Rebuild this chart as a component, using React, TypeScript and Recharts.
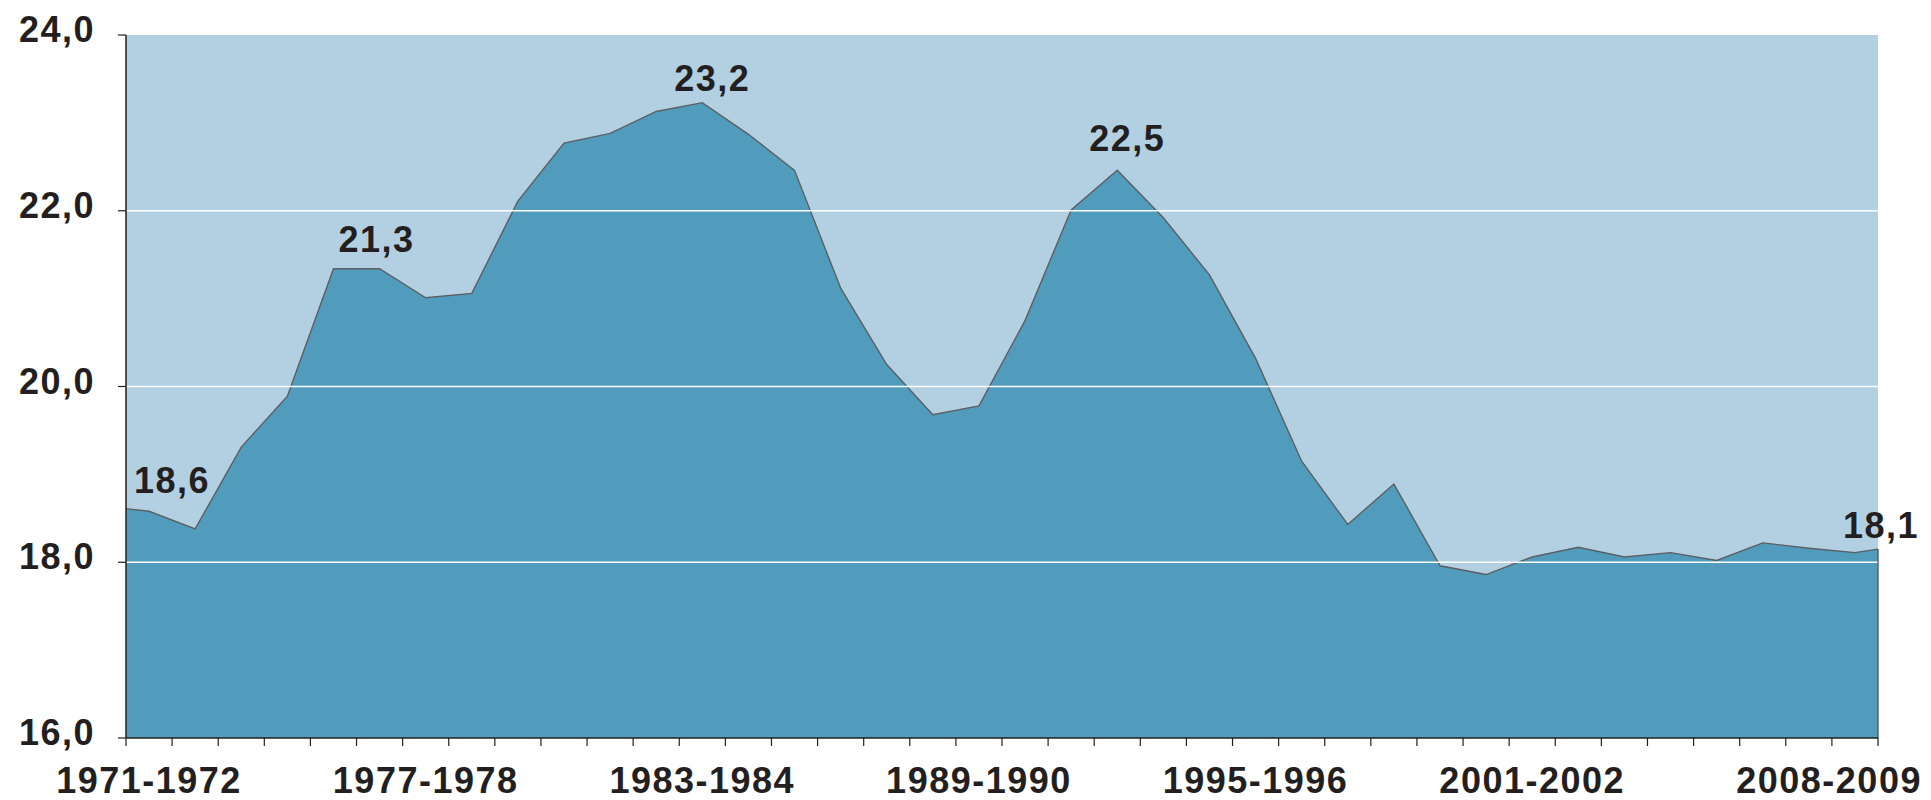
import { AreaChart, Area, XAxis, YAxis, CartesianGrid, ReferenceLine, LabelList } from 'recharts';

const W = 1931;
const H = 800;
const MARGIN = { top: 35, right: 53, bottom: 0, left: 0 };
const Y_AXIS_W = 126;
const X_AXIS_H = 62;

const INK = '#231f20';
const PLOT_BG = '#b3d0e2';
const AREA_FILL = '#519cbd';
const AREA_LINE = '#5b5f63';
const FONT = '"Liberation Sans", Arial, Helvetica, sans-serif';
const FONT_SIZE = 36;

const SEASONS = [
  '1971-1972', '1972-1973', '1973-1974', '1974-1975', '1975-1976', '1976-1977',
  '1977-1978', '1978-1979', '1979-1980', '1980-1981', '1981-1982', '1982-1983',
  '1983-1984', '1984-1985', '1985-1986', '1986-1987', '1987-1988', '1988-1989',
  '1989-1990', '1990-1991', '1991-1992', '1992-1993', '1993-1994', '1994-1995',
  '1995-1996', '1996-1997', '1997-1998', '1998-1999', '1999-2000', '2000-2001',
  '2001-2002', '2002-2003', '2003-2004', '2004-2005', '2005-2006', '2006-2007',
  '2007-2008', '2008-2009',
];

const RATIO = [
  18.58, 18.38, 19.31, 19.89, 21.34, 21.34, 21.01, 21.06, 22.11, 22.77,
  22.88, 23.13, 23.23, 22.87, 22.46, 21.12, 20.25, 19.68, 19.78, 20.75,
  22.01, 22.46, 21.92, 21.27, 20.32, 19.15, 18.43, 18.89, 17.96, 17.86,
  18.06, 18.17, 18.06, 18.11, 18.02, 18.22, 18.16, 18.11,
];

// value where the filled area meets the left and right plot edges
const START_EDGE = 18.61;
const END_EDGE = 18.15;

const Y_TICKS = [16, 18, 20, 22, 24];
const GRID_VALUES = [18, 20, 22];
const SHOWN_SEASONS = ['1971-1972', '1977-1978', '1983-1984', '1989-1990', '1995-1996', '2001-2002', '2008-2009'];
const ANNOTATED = [0, 5, 12, 21, 37];

// nudges for the value labels (px, relative to the point)
const ANNOTATION_DX: Record<number, number> = { 0: 23, 5: -3, 12: 10, 21: 10, 37: 26 };
const ANNOTATION_DY: Record<number, number> = { 0: -18, 5: -17, 12: -12, 21: -19, 37: -15 };

const fmt = (v: number) => v.toFixed(1).replace('.', ',');

const data = [
  { x: 0, v: START_EDGE },
  ...RATIO.map((v, i) => ({ x: i + 0.5, v, i, label: ANNOTATED.includes(i) ? fmt(v) : undefined })),
  { x: SEASONS.length, v: END_EDGE },
];

const BOUNDS = Array.from({ length: SEASONS.length + 1 }, (_, i) => i);
const HALF_CAT = (W - Y_AXIS_W - MARGIN.right) / SEASONS.length / 2;

const textStyle = {
  fontFamily: FONT,
  fontSize: FONT_SIZE,
  fontWeight: 700,
  letterSpacing: 1.5,
  fill: INK,
};

function XTick(props: any) {
  const { x, y, payload } = props;
  const idx = payload.value;
  const name = SEASONS[idx];
  if (!name || !SHOWN_SEASONS.includes(name)) return null;
  const last = idx === SEASONS.length - 1;
  return (
    <text x={x + HALF_CAT + (last ? 67 : 0)} y={y + 47} textAnchor={last ? 'end' : 'middle'} style={textStyle}>
      {name}
    </text>
  );
}

function YTick(props: any) {
  const { x, y, payload } = props;
  return (
    <text x={x} y={y + 7} textAnchor="end" style={textStyle}>
      {fmt(payload.value)}
    </text>
  );
}

function PointLabel(props: any) {
  const { value, index } = props;
  if (value == null || value === '') return null;
  const vb = props.viewBox || {};
  const x = props.x ?? vb.x;
  const y = props.y ?? vb.y;
  const row = data[index];
  const dx = row && row.i != null ? ANNOTATION_DX[row.i] ?? 0 : 0;
  const dy = row && row.i != null ? ANNOTATION_DY[row.i] ?? -16 : -16;
  return (
    <text x={x + dx} y={y + dy} textAnchor="middle" style={textStyle}>
      {value}
    </text>
  );
}

export default function App() {
  return (
    <div style={{ position: 'absolute', left: 0, top: 0, width: W, height: H, background: '#fff' }}>
      <AreaChart width={W} height={H} data={data} margin={MARGIN}>
        <CartesianGrid horizontal={false} vertical={false} fill={PLOT_BG} fillOpacity={1} />
        <XAxis
          type="number"
          dataKey="x"
          domain={[0, SEASONS.length]}
          ticks={BOUNDS}
          interval={0}
          height={X_AXIS_H}
          tickSize={8}
          tickMargin={0}
          axisLine={{ stroke: INK, strokeWidth: 1.5 }}
          tickLine={{ stroke: INK, strokeWidth: 1.2 }}
          tick={<XTick />}
        />
        <YAxis
          type="number"
          domain={[16, 24]}
          ticks={Y_TICKS}
          interval={0}
          width={Y_AXIS_W}
          tickSize={8}
          tickMargin={23}
          axisLine={{ stroke: INK, strokeWidth: 1.5 }}
          tickLine={{ stroke: INK, strokeWidth: 1.2 }}
          tick={<YTick />}
        />
        <Area
          type="linear"
          dataKey="v"
          stroke={AREA_LINE}
          strokeWidth={1.4}
          fill={AREA_FILL}
          fillOpacity={1}
          dot={false}
          activeDot={false}
          isAnimationActive={false}
        >
          <LabelList dataKey="label" content={<PointLabel />} />
        </Area>
        {GRID_VALUES.map((g) => (
          <ReferenceLine key={g} y={g} stroke="#ffffff" strokeWidth={1.5} />
        ))}
        <ReferenceLine
          segment={[{ x: SEASONS.length, y: 16 }, { x: SEASONS.length, y: END_EDGE }]}
          stroke={AREA_LINE}
          strokeWidth={1.4}
        />
      </AreaChart>
    </div>
  );
}
